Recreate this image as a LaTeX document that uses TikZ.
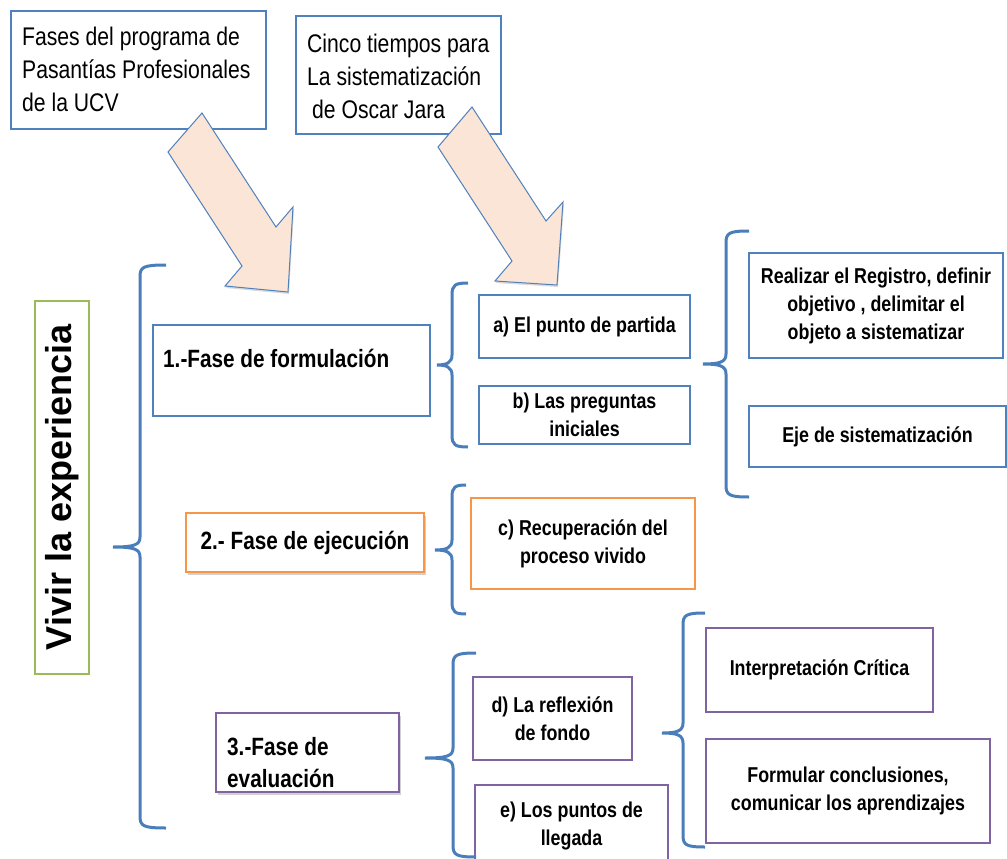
\documentclass[tikz,border=0pt]{standalone}
\usepackage{fontspec}
\setmainfont{Liberation Sans}
\newfontfamily\narrowfont[FakeStretch=0.83]{Liberation Sans}
\usetikzlibrary{shadows}
\definecolor{oblue}{HTML}{4F81BD}
\definecolor{bracecol}{HTML}{4A7EBB}
\definecolor{ogreen}{HTML}{9BBB59}
\definecolor{oorange}{HTML}{F79646}
\definecolor{opurple}{HTML}{8064A2}
\definecolor{peach}{HTML}{FBE5D6}
\newcommand{\mybrace}[6]{%
  \draw[bracestyle] (#6,#2) .. controls ({#1+3},{#2}) and (#1,{#2+2}) .. (#1,{#2+12})
    -- (#1,{#5-10}) .. controls (#1,{#5-2}) and ({#1-6},{#5}) .. (#4,#5)
    .. controls ({#1-6},{#5}) and (#1,{#5+2}) .. (#1,{#5+10})
    -- (#1,{#3-12}) .. controls (#1,{#3-2}) and ({#1+3},{#3}) .. (#6,#3);}
\tikzset{
  boxbase/.style={draw, line width=1.2pt, fill=white, inner sep=0pt, align=center},
  bluebox/.style={boxbase, draw=oblue},
  greenbox/.style={boxbase, draw=ogreen},
  orangebox/.style={boxbase, draw=oorange},
  purplebox/.style={boxbase, draw=opurple},
  shade/.style={drop shadow={shadow xshift=1.5pt, shadow yshift=-2.5pt, opacity=0.3, fill=black!60}},
  smalltext/.style={font=\narrowfont\bfseries\fontsize{21.5}{28}\selectfont},
  phasetext/.style={font=\narrowfont\bfseries\fontsize{25}{32}\selectfont, inner sep=0pt, align=left},
  toptext/.style={font=\narrowfont\fontsize{25.5}{33}\selectfont, inner sep=0pt, align=left},
  bigarrow/.style={draw=oblue, line width=1pt, fill=peach, line join=miter,
    drop shadow={shadow xshift=1pt, shadow yshift=-2pt, opacity=0.25, fill=black!60}},
  bracestyle/.style={draw=bracecol, line width=3pt, line cap=butt},
}
\begin{document}
\begin{tikzpicture}[x=1pt,y=-1pt]
\useasboundingbox (0,0) rectangle (1007,859);
% top boxes
\node[bluebox, minimum width=255, minimum height=118] (top1) at (138.5,70) {};
\node[toptext, anchor=north west] (top1t) at (22,27) {Fases del programa de\\Pasantías Profesionales\\de la UCV};
\node[bluebox, minimum width=205, minimum height=118] (top2) at (398.5,75) {};
\node[toptext, anchor=north west] (top2t) at (307,33.5) {Cinco tiempos para\\La sistematización\\\hspace*{5pt}de Oscar Jara};
% arrows
\path[bigarrow] (202,113) -- (276,227) -- (293,207) -- (288,292) -- (225,286) -- (242,266) -- (168,152) -- cycle;
\path[bigarrow] (472,107) -- (546,221) -- (563,202) -- (557,285) -- (495,281) -- (512,261) -- (438,147) -- cycle;
% vertical label
\node[greenbox, rotate=90, minimum width=373, minimum height=54, font=\bfseries\fontsize{36}{40}\selectfont] (viv) at (62,487.5) {Vivir la experiencia};
% phases
\node[bluebox, minimum width=277, minimum height=91] (f1) at (291.5,370.5) {};
\node[phasetext, anchor=base west] (f1t) at (163,367) {1.-Fase de formulación};
\node[orangebox, shade, minimum width=238, minimum height=59, phasetext, align=center] (f2) at (305,542.5) {2.- Fase de ejecución};
\node[purplebox, shade, minimum width=183, minimum height=79] (f3) at (307.5,752.5) {};
\node[phasetext, anchor=north west] (f3t) at (227,737) {3.-Fase de\\evaluación};
% sub boxes
\node[bluebox, smalltext, minimum width=211, minimum height=63] (a) at (584.5,326.5) {a) El punto de partida};
\node[bluebox, smalltext, minimum width=211, minimum height=58] (b) at (584.5,415) {b) Las preguntas\\iniciales};
\node[bluebox, smalltext, minimum width=254, minimum height=105] (reg) at (876,305.5) {Realizar el Registro, definir\\objetivo , delimitar el\\objeto a sistematizar};
\node[bluebox, smalltext, minimum width=257, minimum height=61] (eje) at (877.5,436.5) {Eje de sistematización};
\node[orangebox, smalltext, minimum width=224, minimum height=91] (c) at (583,543.5) {c) Recuperación del\\proceso vivido};
\node[purplebox, smalltext, minimum width=159, minimum height=83] (d) at (552.5,718.5) {d) La reflexión\\de fondo};
\node[purplebox, smalltext, minimum width=193, minimum height=81] (e) at (571.5,825.5) {e) Los puntos de\\llegada};
\node[purplebox, smalltext, minimum width=227, minimum height=84] (interp) at (819.5,670) {Interpretación Crítica};
\node[purplebox, smalltext, minimum width=284, minimum height=104] (form) at (848,791) {Formular conclusiones,\\comunicar los aprendizajes};
% braces
\mybrace{140}{265}{828}{113}{547}{166}
\mybrace{452}{283}{447}{437}{365}{468}
\mybrace{726}{231}{497}{703}{364}{749}
\mybrace{452}{485}{614}{435}{550}{466}
\mybrace{453}{653}{857}{425}{758}{476}
\mybrace{683}{613}{847}{662}{733}{705}
\end{tikzpicture}
\end{document}
